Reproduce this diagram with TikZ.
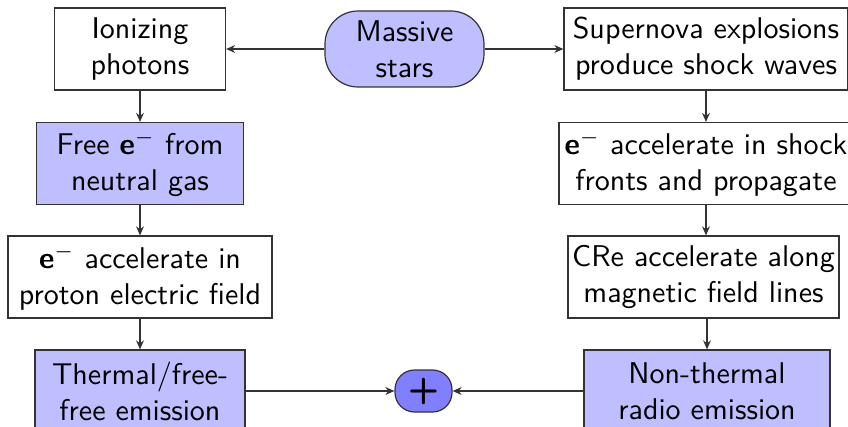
\documentclass[tikz,border=0pt]{standalone}
\usepackage{fontspec}
\usetikzlibrary{arrows.meta}
\begin{document}
\begin{tikzpicture}[x=1pt,y=1pt,font=\sffamily,
  box/.style={draw=black!80, line width=0.4pt, rectangle, align=center, inner sep=0pt, minimum height=27.33pt},
  hi/.style={fill=blue!25},
  pill/.style={draw=black!80, line width=0.4pt, rectangle, align=center, inner sep=0pt},
  arr/.style={draw=black!80, line width=0.4pt, -{Stealth[length=3pt,width=2.6pt]}}]
\useasboundingbox (0,0) rectangle (282.67,-142.33);
% left column
\node[box, minimum width=57pt] (ion) at (46.67,-16.33) {Ionizing\\photons};
\node[box, hi, minimum width=69pt] (free) at (46.67,-54.5) {Free \textbf{e}$^-$ from\\neutral gas};
\node[box, minimum width=88pt] (prot) at (46.67,-92.33) {\textbf{e}$^-$ accelerate in\\proton electric field};
\node[box, hi, minimum width=70pt] (therm) at (46.67,-130.33) {Thermal/free-\\free emission};
% centre
\node[pill, fill=blue!25, rounded corners=11pt, minimum width=53pt, minimum height=25.33pt] (mass) at (134.83,-16.33) {Massive\\stars};
\node[pill, fill=blue!50, rounded corners=6.5pt, minimum width=19pt, minimum height=14pt, font=\large\sffamily\bfseries] (plus) at (141.17,-130.33) {+};
% right column
\node[box, minimum width=94.67pt] (sn) at (235.33,-16.33) {Supernova explosions\\produce shock waves};
\node[box, minimum width=98pt] (shock) at (235.33,-54.5) {\textbf{e}$^-$ accelerate in shock\\fronts and propagate};
\node[box, minimum width=90.33pt] (cre) at (234.5,-92.33) {CRe accelerate along\\magnetic field lines};
\node[box, hi, minimum width=82pt] (nonth) at (235.67,-130.33) {Non-thermal\\radio emission};
% connectors
\draw[arr] (mass.west) -- (ion.east);
\draw[arr] (mass.east) -- (sn.west);
\draw[arr] (ion.south) -- (free.north);
\draw[arr] (free.south) -- (prot.north);
\draw[arr] (prot.south) -- (therm.north);
\draw[arr] (sn.south) -- (shock.north);
\draw[arr] (shock.south) -- (shock.south |- cre.north);
\draw[arr] (cre.south -| nonth.north) -- (nonth.north);
\draw[arr] (therm.east) -- (plus.west);
\draw[arr] (nonth.west) -- (plus.east);
\end{tikzpicture}
\end{document}
